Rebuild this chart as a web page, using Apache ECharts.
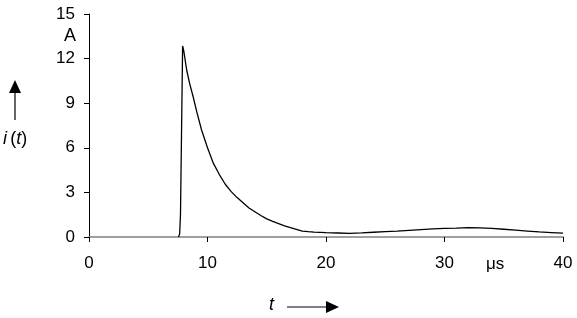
<!DOCTYPE html>
<html>
<head>
<meta charset="utf-8">
<script src="https://cdn.jsdelivr.net/npm/echarts@6/dist/echarts.min.js"></script>
<style>html,body{margin:0;padding:0;background:#fff}#c{width:577px;height:318px}</style>
</head>
<body>
<div id="c"></div>
<script>
const timeUs = [7.55, 7.65, 7.72, 7.8, 7.9, 8.0, 8.25, 8.5, 8.8, 9.1, 9.5, 10.0, 10.5, 11.0, 11.5, 12.0, 12.5, 13.0, 13.5, 14.0, 14.5, 15.0, 15.5, 16.0, 16.5, 17.0, 17.5, 18.0, 18.5, 19, 20, 21, 22, 23, 24, 25, 26, 27, 28, 29, 30, 31, 32, 33, 34, 35, 36, 37, 38, 39, 40];
const currentA = [0, 0.2, 1.5, 6.5, 12.85, 12.5, 11.2, 10.3, 9.4, 8.4, 7.2, 6.0, 4.95, 4.2, 3.55, 3.05, 2.65, 2.3, 1.95, 1.7, 1.45, 1.22, 1.05, 0.9, 0.75, 0.63, 0.52, 0.4, 0.36, 0.33, 0.29, 0.27, 0.25, 0.28, 0.32, 0.36, 0.40, 0.45, 0.50, 0.55, 0.58, 0.6, 0.63, 0.62, 0.58, 0.52, 0.46, 0.4, 0.34, 0.3, 0.26];
const xTicks = [0, 10, 20, 30, 40];
const yTicks = [0, 3, 6, 9, 12, 15];

const chart = echarts.init(document.getElementById('c'));
const font = 'Liberation Sans, Arial, sans-serif';
chart.setOption({
  animation: false,
  grid: { left: 89, right: 14, top: 14, bottom: 81 },
  xAxis: {
    type: 'value', min: xTicks[0], max: xTicks[xTicks.length - 1], interval: 10,
    axisLine: { lineStyle: { color: '#808080', width: 1.5 } },
    axisTick: { length: 5, lineStyle: { color: '#000' } },
    axisLabel: { color: '#000', fontFamily: font, fontSize: 17, margin: 18 },
    splitLine: { show: false }
  },
  yAxis: {
    type: 'value', min: yTicks[0], max: yTicks[yTicks.length - 1], interval: 3,
    axisLine: { show: true, lineStyle: { color: '#000', width: 1 } },
    axisTick: { show: true, length: 5, lineStyle: { color: '#000' } },
    axisLabel: { color: '#000', fontFamily: font, fontSize: 17, margin: 14 },
    splitLine: { show: false }
  },
  series: [{
    type: 'line',
    data: timeUs.map((t, k) => [t, currentA[k]]),
    showSymbol: false,
    lineStyle: { color: '#000', width: 1.3 },
    z: 3
  }],
  graphic: [
    { type: 'text', left: 64, top: 27, style: { text: 'A', font: '18px ' + font, fill: '#000' } },
    { type: 'text', left: 486, top: 256, style: { text: 'μs', font: '17px ' + font, fill: '#000' } },
    { type: 'line', shape: { x1: 15, y1: 92, x2: 15, y2: 120 }, style: { stroke: '#000', lineWidth: 1.2 } },
    { type: 'polygon', shape: { points: [[15, 80], [9, 93], [21, 93]] }, style: { fill: '#000' } },
    { type: 'text', left: 3, top: 130, style: {
        rich: { it: { fontStyle: 'italic', fontSize: 18, fontFamily: font }, n: { fontSize: 18, fontFamily: font } },
        text: '{it|i} {n|(}{it|t}{n|)}', fill: '#000' } },
    { type: 'text', left: 269, top: 296, style: { text: 't', font: 'italic 18px ' + font, fill: '#000' } },
    { type: 'line', shape: { x1: 287, y1: 307, x2: 328, y2: 307 }, style: { stroke: '#000', lineWidth: 1.2 } },
    { type: 'polygon', shape: { points: [[339, 307], [326, 301], [326, 313]] }, style: { fill: '#000' } }
  ]
});
</script>
</body>
</html>
